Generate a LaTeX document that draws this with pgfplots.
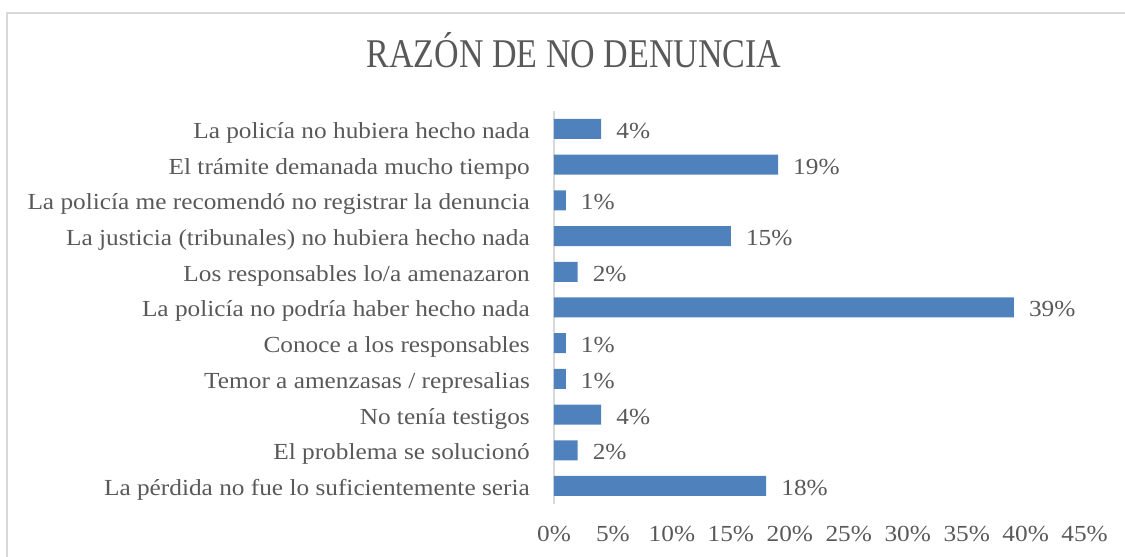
\documentclass[border=0pt]{standalone}
\usepackage{pgfplots}
\pgfplotsset{compat=1.18}
\usepackage{pgfplotstable}
\usepackage{fontspec}
\setmainfont[FakeStretch=1.1]{Liberation Serif}
\newfontfamily\titlefont{Liberation Serif}
\definecolor{barblue}{HTML}{4F81BD}
\definecolor{txtgray}{HTML}{595959}
\definecolor{linegray}{HTML}{D9D9D9}
\pgfplotstableread{
y x
10 4
9 19
8 1
7 15
6 2
5 39
4 1
3 1
2 4
1 2
0 18
}\datatab
\begin{document}
\begin{tikzpicture}
\useasboundingbox (0,0) rectangle (1125pt,557pt);
\draw[linegray, line width=2pt] (7pt,0pt) -- (7pt,544pt) -- (1125pt,544pt);
\node[anchor=base, text=txtgray, font=\titlefont\fontsize{34}{40}\selectfont, yscale=1.2] at (574pt,489pt) {RAZÓN DE NO DENUNCIA};
\begin{axis}[
  scale only axis,
  width=530.6pt, height=392.7pt,
  at={(554pt,53.15pt)}, anchor=south west,
  xmin=0, xmax=45, ymin=-0.5, ymax=10.5,
  separate axis lines,
  x axis line style={draw=none},
  y axis line style={draw=linegray, line width=1.5pt},
  axis x line*=bottom, axis y line*=left,
  major tick length=0pt,
  xtick={0,5,...,45},
  xticklabel={\pgfmathprintnumber{\tick}\%},
  /pgf/number format/assume math mode=true,
  xticklabel style={anchor=base, yshift=-38pt, inner sep=0pt, text=txtgray, font=\fontsize{23}{27}\selectfont},
  ytick={0,...,10},
  yticklabels={La pérdida no fue lo suficientemente seria, El problema se solucionó, No tenía testigos, Temor a amenzasas / represalias, Conoce a los responsables, La policía no podría haber hecho nada, Los responsables lo/a amenazaron, La justicia (tribunales) no hubiera hecho nada, La policía me recomendó no registrar la denuncia, El trámite demanada mucho tiempo, La policía no hubiera hecho nada},
  yticklabel style={anchor=base east, xshift=-24pt, yshift=-9.5pt, inner sep=0pt, text=txtgray, font=\fontsize{23}{27}\selectfont},
  clip=false,
]
\addplot[xbar, fill=barblue, draw=none, bar width=20pt,
  nodes near coords={\pgfmathprintnumber{\pgfplotspointmeta}\%},
  nodes near coords style={anchor=base west, xshift=15pt, yshift=-9.5pt, inner sep=0pt, text=txtgray, font=\fontsize{23}{27}\selectfont, /pgf/number format/assume math mode=true},
] table[x=x, y=y]{\datatab};
\end{axis}
\end{tikzpicture}
\end{document}
